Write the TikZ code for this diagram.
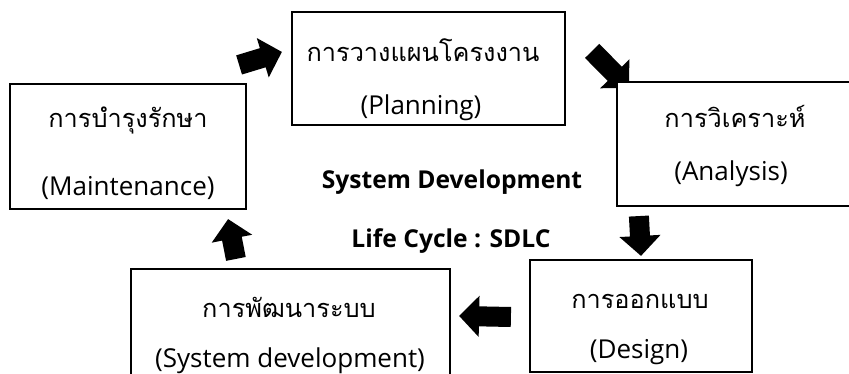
\documentclass[tikz,border=0pt]{standalone}
\usepackage{fontspec}
\newfontfamily\thaifont[Script=Thai]{Loma}
\newfontfamily\latinfont{Open Sans}
\usetikzlibrary{arrows.meta,calc,backgrounds}

\tikzset{
  stage/.style={draw, line width=1.5pt, fill=white, inner sep=0pt},
  stagetext/.style={anchor=base, font=\thaifont\fontsize{18}{22}\selectfont},
  stagelatin/.style={anchor=base, font=\latinfont\fontsize{18.5}{22}\selectfont},
  titletext/.style={anchor=base, font=\latinfont\bfseries\fontsize{17.5}{20}\selectfont},
  blockarrow/.style={line width=0.5cm, -{Triangle[length=0.5cm,width=1cm]}},
}

\begin{document}
\begin{tikzpicture}[x=0.025cm, y=-0.025cm]
\useasboundingbox (0,0) rectangle (849,374);
% the five phases
\node[stage, minimum width=5.9cm, minimum height=3.125cm] (maint) at (128,146.5) {};
\node[stage, minimum width=6.825cm, minimum height=2.825cm] (plan) at (428.5,68.5) {};
\node[stage, minimum width=6.325cm, minimum height=3.1cm] (analysis) at (743.5,144) {};
\node[stage, minimum width=5.55cm, minimum height=2.8cm] (design) at (641,316) {};
\node[stage, minimum width=7.975cm, minimum height=2.9cm] (sysdev) at (290.5,327) {};
% texts of the phases
\node[stagetext] (maintth) at (128,128) {การบำรุงรักษา};
\node[stagelatin] (mainten) at (128,195) {(Maintenance)};
\node[stagetext] (planth) at (423,62) {การวางแผนโครงงาน};
\node[stagelatin] (planen) at (421,115) {(Planning)};
\node[stagetext] (analysisth) at (735,128) {การวิเคราะห์};
\node[stagelatin] (analysisen) at (731,180) {(Analysis)};
\node[stagetext] (designth) at (640,308) {การออกแบบ};
\node[stagelatin] (designen) at (639,358) {(Design)};
\node[stagetext] (sysdevth) at (289,317) {การพัฒนาระบบ};
\node[stagelatin] (sysdeven) at (290,367) {(System development)};
% title in the middle
\node[titletext] (title) at (452,188) {System Development};
\node[titletext] (subtitle) at (451,247) {Life Cycle : SDLC};
% arrows between the phases
\begin{scope}[on background layer]
\draw[blockarrow] ($(maint.north east)+(-8,-18)$) -- ($(plan.north west)+(-9,41)$);
\draw[blockarrow] ($(plan.north east)+(26,40)$) -- ($(analysis.north west)+(13,7)$);
\draw[blockarrow] ($(analysis.south west)+(23,9)$) -- ($(design.north)+(0,-3)$);
\draw[blockarrow] ($(design.west)+(-18,1)$) -- ($(sysdev.north east)+(8,48)$);
\draw[blockarrow] ($(sysdev.north west)+(106,-9)$) -- ($(maint.south east)+(-19,9)$);
\end{scope}
\end{tikzpicture}
\end{document}
